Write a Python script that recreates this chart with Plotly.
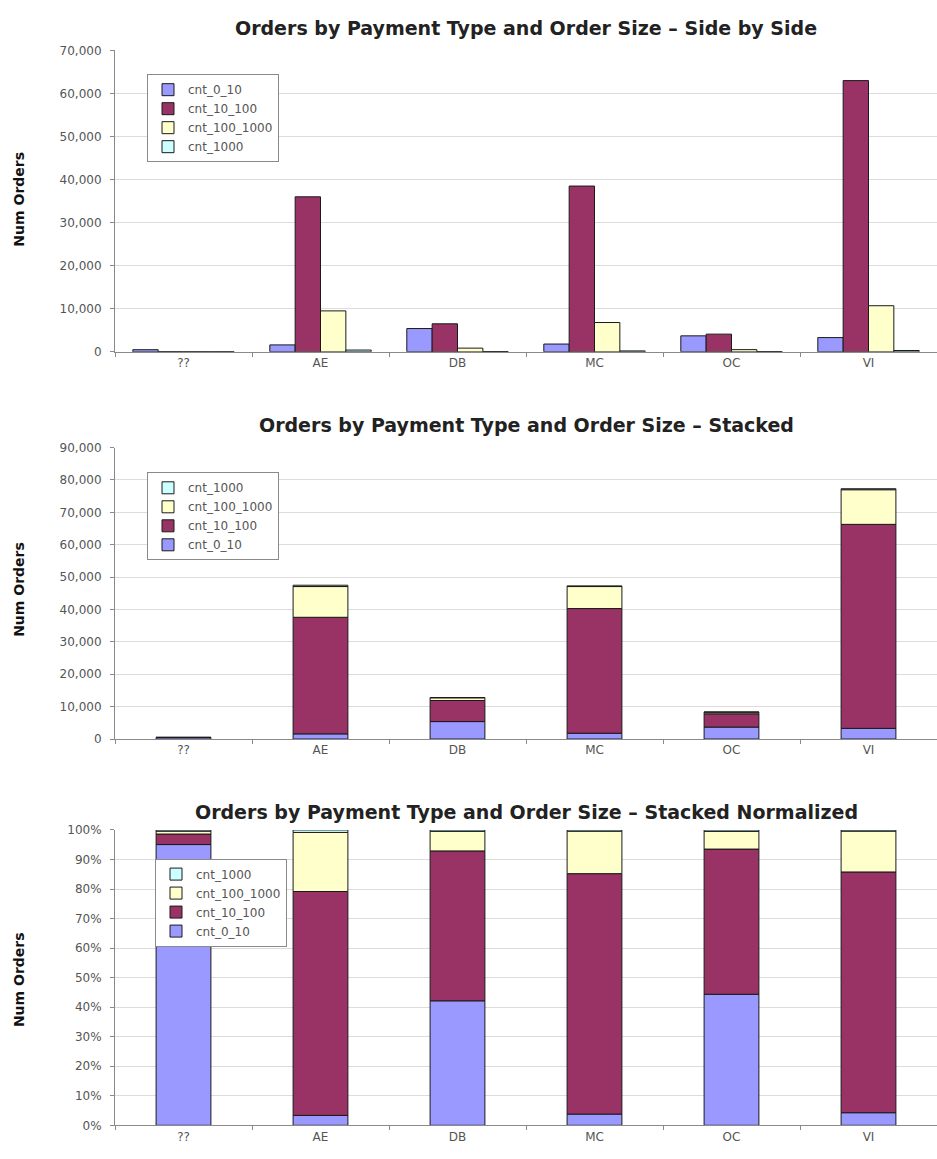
import plotly.graph_objects as go

# Order counts per payment type, split by order-size bucket
payment_types = ["??", "AE", "DB", "MC", "OC", "VI"]
cnt_0_10 = [480, 1600, 5400, 1800, 3700, 3300]
cnt_10_100 = [18, 36000, 6500, 38500, 4100, 63000]
cnt_100_1000 = [5, 9500, 850, 6800, 500, 10700]
cnt_1000 = [2, 400, 60, 200, 40, 300]

series_names = ["cnt_0_10", "cnt_10_100", "cnt_100_1000", "cnt_1000"]
series_values = [cnt_0_10, cnt_10_100, cnt_100_1000, cnt_1000]
series_colors = ["#9999FF", "#993366", "#FFFFCC", "#CCFFFF"]

W, H = 937, 1159
FONT = "DejaVu Sans, Verdana, sans-serif"


def py(px):
    """pixel row from top -> paper y"""
    return 1 - px / H


def pxx(px):
    return px / W


fig = go.Figure()
outline = dict(color="#1a1a1a", width=1)

# Panel 1: grouped bars
for name, vals, col in zip(series_names, series_values, series_colors):
    fig.add_trace(go.Bar(
        x=payment_types, y=vals, name=name, marker=dict(color=col, line=outline),
        xaxis="x", yaxis="y", legend="legend", showlegend=True,
    ))

# Panel 2: stacked counts (explicit bases so each panel keeps its own layout)
totals = [sum(v) for v in zip(*series_values)]
base = [0] * len(payment_types)
for i, (name, vals, col) in enumerate(zip(series_names, series_values, series_colors)):
    fig.add_trace(go.Bar(
        x=payment_types, y=vals, base=list(base), name=name,
        marker=dict(color=col, line=outline), width=0.4, offset=-0.2,
        offsetgroup="s", xaxis="x2", yaxis="y2", legend="legend2",
        legendrank=10 - i,
    ))
    base = [b + v for b, v in zip(base, vals)]

# Panel 3: stacked, normalized to 100%
base = [0] * len(payment_types)
for i, (name, vals, col) in enumerate(zip(series_names, series_values, series_colors)):
    pct = [100.0 * v / t for v, t in zip(vals, totals)]
    fig.add_trace(go.Bar(
        x=payment_types, y=pct, base=list(base), name=name,
        marker=dict(color=col, line=outline), width=0.4, offset=-0.2,
        offsetgroup="n", xaxis="x3", yaxis="y3", legend="legend3",
        legendrank=10 - i,
    ))
    base = [b + v for b, v in zip(base, pct)]

xdom = [pxx(115), pxx(937)]
tickfont = dict(family=FONT, size=12, color="#555")
xcommon = dict(
    domain=xdom, showline=True, linecolor="#8a8a8a", linewidth=1,
    ticks="outside", tickson="boundaries", ticklen=4, tickcolor="#8a8a8a",
    tickfont=tickfont, showgrid=False, fixedrange=True,
)
ycommon = dict(
    showline=True, linecolor="#8a8a8a", linewidth=1, ticks="outside",
    ticklen=4, tickcolor="#8a8a8a", showgrid=True, gridcolor="#dcdcdc",
    gridwidth=1, zeroline=False, tickfont=tickfont, ticklabelstandoff=6,
)

fig.update_layout(
    width=W, height=H, margin=dict(l=0, r=0, t=0, b=0),
    paper_bgcolor="white", plot_bgcolor="white",
    barmode="group", bargap=0.26, bargroupgap=0,
    font=dict(family=FONT, color="#222"),
    xaxis=dict(xcommon, anchor="y"),
    xaxis2=dict(xcommon, anchor="y2"),
    xaxis3=dict(xcommon, anchor="y3"),
    yaxis=dict(ycommon, domain=[py(349), py(44)], range=[0, 70000], dtick=10000,
               tickformat=",", anchor="x"),
    yaxis2=dict(ycommon, domain=[py(741), py(446)], range=[0, 90000], dtick=10000,
                tickformat=",", anchor="x2"),
    yaxis3=dict(ycommon, domain=[py(1132), py(833)], range=[0, 100], dtick=10,
                ticksuffix="%", anchor="x3"),
)

legend_style = dict(
    bgcolor="white", bordercolor="#8a8a8a", borderwidth=1,
    font=dict(family=FONT, size=12, color="#555"), xanchor="left", yanchor="top",
    itemwidth=30, tracegroupgap=0,
)
fig.update_layout(
    legend=dict(legend_style, x=pxx(147), y=py(68), traceorder="normal"),
    legend2=dict(legend_style, x=pxx(147), y=py(471), traceorder="normal"),
    legend3=dict(legend_style, x=pxx(155), y=py(862), traceorder="normal"),
)

titles = [
    ("Orders by Payment Type and Order Size \u2013 Side by Side", 21, 195),
    ("Orders by Payment Type and Order Size \u2013 Stacked", 423, 590),
    ("Orders by Payment Type and Order Size \u2013 Stacked Normalized", 815, 985),
]
for text, ty, ycenter in titles:
    fig.add_annotation(
        text=f"<b>{text}</b>", x=pxx(526), y=py(ty), xref="paper", yref="paper",
        showarrow=False, font=dict(family=FONT, size=19, color="#222"),
        xanchor="center", yanchor="middle",
    )
    fig.add_annotation(
        text="<b>Num Orders</b>", x=pxx(19), y=py(ycenter), xref="paper",
        yref="paper", showarrow=False, textangle=-90,
        font=dict(family=FONT, size=14, color="#111"),
        xanchor="center", yanchor="middle",
    )

fig.write_html("out.html")
